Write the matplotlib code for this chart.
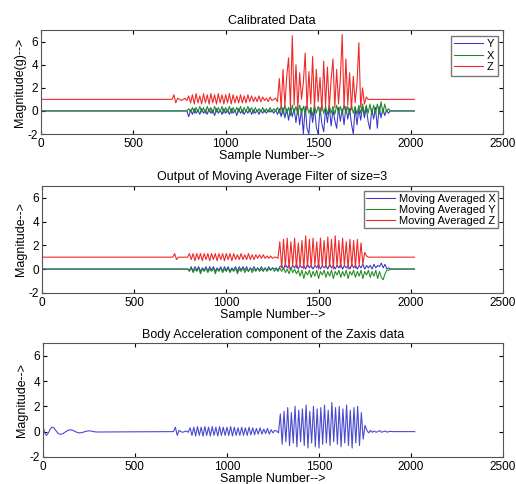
import numpy as np
import matplotlib
matplotlib.use("Agg")
import matplotlib.pyplot as plt

plt.rcParams['font.family'] = ['Liberation Sans', 'DejaVu Sans']
plt.rcParams['axes.unicode_minus'] = False

# sample values, every 10 samples from 700 on
START = 700
STEP = 10
END = 2020

# --- calibrated data ---
cal_y = [0, 0, 0, 0, 0, 0, 0, 0, 0, 0,
         -0.5, 0.1, -0.3, 0.2, -0.2, 0.1, -0.3, 0.2, -0.2, 0.1,
         -0.3, 0.2, -0.2, 0.1, -0.4, 0.2, -0.2, 0.1, -0.3, 0.2,
         -0.2, 0.1, -0.3, 0.2, -0.2, 0.1, -0.4, 0.2, -0.2, 0.1,
         -0.3, 0.1, -0.2, 0.2, -0.3, 0.1, -0.2, 0.1, -0.3, 0.1,
         -0.2, 0.1, -0.2, 0.1, -0.1, 0.1, -0.2, 0.1, -0.3, 0.2,
         -0.5, 0.3, -0.6, 0.2, -0.8, 0.3, -0.5, 0.2, -1.0, 0.3,
         -1.2, 0.2, -2.0, 0.4, -1.5, -2.0, 0.3, -1.0, 0.2, -1.4,
         -2.0, 0.3, -1.1, -1.8, 0.2, -1.0, 0.4, -1.3, 0.1, -0.8,
         -1.5, 0.3, -0.9, 0.2, -1.2, 0.4, -0.7, 0.2, -1.1, -2.0,
         0.3, -1.2, 0.2, -0.8, 0.4, -0.6, 0.3, -0.9, -1.6, 0.2,
         -0.7, 0.3, -1.5, 0.4, -0.6, 0.2, -0.4, 0.1, -0.2, 0.0,
         0.0]
cal_x = [0, 0, 0, 0, 0, 0, 0, 0, 0, 0,
         0.2, -0.1, 0.3, -0.2, 0.3, -0.1, 0.4, -0.1, 0.3, -0.2,
         0.4, -0.1, 0.3, -0.2, 0.4, -0.1, 0.3, -0.1, 0.4, -0.2,
         0.3, -0.1, 0.4, -0.2, 0.3, -0.1, 0.3, -0.1, 0.4, -0.2,
         0.3, -0.1, 0.4, -0.1, 0.3, -0.2, 0.3, -0.1, 0.2, -0.1,
         0.3, -0.1, 0.2, -0.1, 0.3, -0.1, 0.2, 0.0, 0.3, -0.2,
         0.4, -0.3, 0.5, -0.2, 0.3, -0.4, 0.5, -0.2, 0.4, -0.3,
         0.5, -0.2, 0.4, -0.3, 0.5, -0.2, 0.3, -0.4, 0.5, -0.2,
         0.4, -0.3, 0.5, -0.2, 0.4, -0.3, 0.5, -0.2, 0.4, -0.3,
         0.5, -0.2, 0.4, -0.3, 0.5, -0.2, 0.4, -0.3, 0.5, -0.2,
         0.4, -0.3, 0.5, -0.2, 0.6, -0.3, 0.5, -0.2, 0.6, -0.3,
         0.5, -0.2, 0.6, -0.3, 0.8, -0.2, 0.6, -0.1, 0.2, 0.0,
         0.0]
cal_z = [1.0, 1.0, 1.4, 0.7, 1.1, 1.0, 0.9, 1.0, 1.1, 0.9,
         1.3, 0.7, 1.4, 0.6, 1.5, 0.7, 1.3, 0.6, 1.5, 0.7,
         1.4, 0.6, 1.5, 0.7, 1.4, 0.6, 1.5, 0.7, 1.4, 0.6,
         1.4, 0.7, 1.5, 0.6, 1.4, 0.7, 1.3, 0.7, 1.4, 0.7,
         1.3, 0.7, 1.4, 0.8, 1.3, 0.8, 1.2, 0.8, 1.3, 0.8,
         1.2, 0.9, 1.1, 0.8, 1.2, 0.9, 1.0, 1.1, 0.8, 2.8,
         0.2, 3.6, 0.4, 3.0, 4.6, 0.3, 6.5, 0.5, 4.0, 0.2,
         3.3, 1.0, 2.5, 5.0, 0.1, 3.4, 0.6, 4.7, 0.2, 3.6,
         0.8, 2.9, 0.0, 4.3, 0.4, 3.8, 0.2, 2.7, 4.5, 0.3,
         3.6, 0.6, 2.8, 6.6, 0.2, 4.5, 0.5, 3.3, 0.1, 3.0,
         0.7, 2.4, 5.9, 0.3, 2.0, 0.6, 1.2, 1.0, 1.0, 1.0,
         1.0, 1.0, 1.0, 1.0, 1.0, 1.0, 1.0, 1.0, 1.0, 1.0,
         1.0]

# --- moving average output ---
ma_x = [0, 0, 0, 0, 0, 0, 0, 0, 0, 0,
        -0.1, 0.2, -0.2, 0.2, -0.1, 0.2, -0.2, 0.1, -0.1, 0.2,
        -0.2, 0.2, -0.1, 0.2, -0.2, 0.1, -0.1, 0.2, -0.2, 0.2,
        -0.1, 0.2, -0.2, 0.1, -0.1, 0.2, -0.2, 0.2, -0.1, 0.2,
        -0.1, 0.2, -0.2, 0.1, -0.1, 0.2, -0.1, 0.1, -0.1, 0.2,
        -0.1, 0.1, -0.1, 0.2, -0.1, 0.1, 0.0, 0.1, -0.1, 0.2,
        0.3, 0.0, 0.4, 0.1, 0.3, 0.0, 0.3, 0.1, 0.4, 0.0,
        0.3, 0.1, 0.3, 0.0, 0.4, 0.1, 0.3, 0.0, 0.3, 0.1,
        0.4, 0.0, 0.3, 0.1, 0.3, 0.0, 0.4, 0.1, 0.3, 0.0,
        0.3, 0.1, 0.4, 0.0, 0.3, 0.1, 0.3, 0.0, 0.4, 0.1,
        0.3, 0.0, 0.3, 0.1, 0.4, 0.0, 0.3, 0.1, 0.3, 0.0,
        0.4, 0.1, 0.3, 0.2, 0.5, 0.1, 0.4, 0.0, 0.1, 0.0,
        0.0]
ma_y = [0, 0, 0, 0, 0, 0, 0, 0, 0, 0,
        -0.2, 0.1, -0.3, 0.0, -0.2, 0.1, -0.4, 0.0, -0.2, 0.1,
        -0.3, 0.0, -0.2, 0.1, -0.4, 0.0, -0.2, 0.1, -0.3, 0.0,
        -0.2, 0.1, -0.3, 0.0, -0.2, 0.1, -0.4, 0.0, -0.2, 0.1,
        -0.3, 0.0, -0.2, 0.1, -0.3, 0.0, -0.2, 0.1, -0.2, 0.0,
        -0.2, 0.1, -0.2, 0.0, -0.1, 0.1, -0.2, 0.0, -0.2, 0.1,
        -0.2, 0.1, -0.3, 0.0, -0.4, 0.1, -0.3, 0.0, -0.4, -0.1,
        -0.6, -0.1, -0.8, -0.2, -0.5, -0.1, -0.7, -0.2, -0.6, -0.1,
        -0.8, -0.2, -0.5, -0.1, -0.7, -0.2, -0.6, -0.1, -0.8, -0.2,
        -0.5, -0.1, -0.7, -0.2, -0.6, -0.1, -0.8, -0.2, -0.5, -0.1,
        -0.7, -0.2, -0.6, -0.1, -0.8, -0.2, -0.5, -0.1, -0.7, -0.2,
        -0.6, -0.1, -0.8, -0.2, -0.7, -0.9, -0.4, -0.1, -0.1, 0.0,
        0.0]
ma_z = [1.0, 1.0, 1.3, 0.8, 1.0, 1.0, 1.0, 1.0, 1.0, 1.0,
        1.3, 0.8, 1.3, 0.7, 1.3, 0.8, 1.3, 0.7, 1.3, 0.8,
        1.3, 0.7, 1.3, 0.8, 1.3, 0.7, 1.3, 0.8, 1.3, 0.7,
        1.3, 0.8, 1.3, 0.7, 1.3, 0.8, 1.2, 0.8, 1.3, 0.8,
        1.2, 0.8, 1.3, 0.8, 1.2, 0.8, 1.2, 0.9, 1.2, 0.9,
        1.2, 0.9, 1.1, 0.9, 1.1, 0.9, 1.0, 1.0, 0.9, 2.3,
        0.1, 2.5, 0.2, 2.6, 0.0, 2.3, 0.3, 2.6, 0.1, 2.2,
        0.2, 2.4, 0.0, 2.8, 0.2, 2.5, 0.1, 2.6, 0.3, 2.3,
        0.0, 2.6, 0.2, 2.4, 0.1, 2.7, 0.2, 2.5, 0.0, 2.8,
        0.2, 2.4, 0.1, 2.6, 0.3, 2.3, 0.0, 2.5, 0.2, 2.4,
        0.1, 2.5, 0.3, 2.2, 0.4, 1.4, 1.1, 1.0, 1.0, 1.0,
        1.0, 1.0, 1.0, 1.0, 1.0, 1.0, 1.0, 1.0, 1.0, 1.0,
        1.0]

# --- body acceleration (z) ---
# filter transient at the start, every 10 samples from 0 to 300
body_start = [0.5, -0.1, -0.3, -0.1, 0.2, 0.35, 0.3, 0.1, -0.1, -0.2,
              -0.2, -0.15, -0.05, 0.05, 0.12, 0.15, 0.12, 0.05, -0.02, -0.08,
              -0.1, -0.08, -0.04, 0.0, 0.04, 0.06, 0.05, 0.02, -0.01, -0.03,
              -0.03]
body_z = [0.0, 0.0, 0.35, -0.3, 0.1, 0.0, -0.05, 0.0, 0.05, -0.05,
          0.3, -0.3, 0.35, -0.35, 0.4, -0.3, 0.35, -0.35, 0.4, -0.3,
          0.35, -0.35, 0.4, -0.3, 0.35, -0.35, 0.4, -0.3, 0.35, -0.3,
          0.35, -0.3, 0.4, -0.35, 0.35, -0.3, 0.3, -0.3, 0.35, -0.3,
          0.3, -0.3, 0.35, -0.25, 0.3, -0.25, 0.25, -0.2, 0.3, -0.2,
          0.2, -0.15, 0.25, -0.2, 0.15, -0.1, 0.1, 0.05, -0.1, 1.4,
          -1.0, 1.6, -0.8, 1.9, -1.1, 1.5, -0.9, 2.0, -1.2, 1.7,
          -0.8, 1.8, -1.1, 2.1, -1.3, 1.6, -0.9, 2.0, -1.2, 1.8,
          -1.3, 1.9, -1.0, 2.1, -0.9, 1.7, -1.1, 2.3, -0.8, 1.9,
          -1.0, 2.0, -1.2, 1.8, -0.9, 2.1, -1.1, 1.7, -1.3, 1.9,
          -0.9, 2.0, -1.1, 1.5, -0.6, 0.5, 0.1, -0.1, 0.1, -0.05,
          0.05, -0.05, 0.0, 0.08, -0.05, 0.0, 0.05, -0.04, 0.0, 0.02,
          0.0]


def series(vals, base):
    # flat baseline before and after the recorded stretch
    x = [0] + list(range(START, START + STEP * len(vals), STEP)) + [END]
    y = [base] + list(vals) + [base]
    return x, y


BLUE = '#3535c8'
GREEN = '#1f8a1f'
RED = '#f02a2a'

fig = plt.figure(figsize=(5.16, 4.84), dpi=100)
ax1 = fig.add_axes([0.079, 0.723, 0.896, 0.215])
ax2 = fig.add_axes([0.081, 0.395, 0.894, 0.221])
ax3 = fig.add_axes([0.083, 0.056, 0.892, 0.235])

x, y = series(cal_y, 0.0)
ax1.plot(x, y, color=BLUE, lw=0.75, label='Y')
x, y = series(cal_x, 0.0)
ax1.plot(x, y, color=GREEN, lw=0.75, label='X')
x, y = series(cal_z, 1.0)
ax1.plot(x, y, color=RED, lw=0.8, label='Z')
ax1.set_title('Calibrated Data', fontsize=9, pad=4)
ax1.set_ylabel('Magnitude(g)-->', fontsize=9, labelpad=1)
ax1.legend(loc='upper right', fontsize=8, handlelength=2.6, handletextpad=0.3,
           borderpad=0.3, labelspacing=0.15, fancybox=False, edgecolor='#555555')

x, y = series(ma_x, 0.0)
ax2.plot(x, y, color=BLUE, lw=0.75, label='Moving Averaged X')
x, y = series(ma_y, 0.0)
ax2.plot(x, y, color=GREEN, lw=0.75, label='Moving Averaged Y')
x, y = series(ma_z, 1.0)
ax2.plot(x, y, color=RED, lw=0.8, label='Moving Averaged Z')
ax2.set_title('Output of Moving Average Filter of size=3', fontsize=9, pad=4)
ax2.set_ylabel('Magnitude-->', fontsize=9, labelpad=1)
ax2.legend(loc='upper right', fontsize=8, handlelength=2.6, handletextpad=0.3,
           borderpad=0.2, labelspacing=0.1, fancybox=False, edgecolor='#555555')

bx = list(range(0, STEP * len(body_start), STEP)) + \
    list(range(START, START + STEP * len(body_z), STEP)) + [END]
by = body_start + body_z + [0.0]
ax3.plot(bx, by, color='#4a4ad0', lw=0.8)
ax3.set_title('Body Acceleration component of the Zaxis data', fontsize=9, pad=4)
ax3.set_ylabel('Magnitude-->', fontsize=9, labelpad=1)

for ax in (ax1, ax2, ax3):
    ax.set_xlim(0, 2500)
    ax.set_ylim(-2, 7)
    ax.set_xticks([0, 500, 1000, 1500, 2000, 2500])
    ax.set_yticks([-2, 0, 2, 4, 6])
    ax.tick_params(direction='in', top=True, right=True, labelsize=8.5,
                   length=3)
    ax.tick_params(axis='x', pad=3)
    ax.tick_params(axis='y', pad=2)
    ax.set_xlabel('Sample Number-->', fontsize=9, labelpad=0)
    for s in ax.spines.values():
        s.set_color('#555555')

fig.savefig('out.png', dpi=100)
